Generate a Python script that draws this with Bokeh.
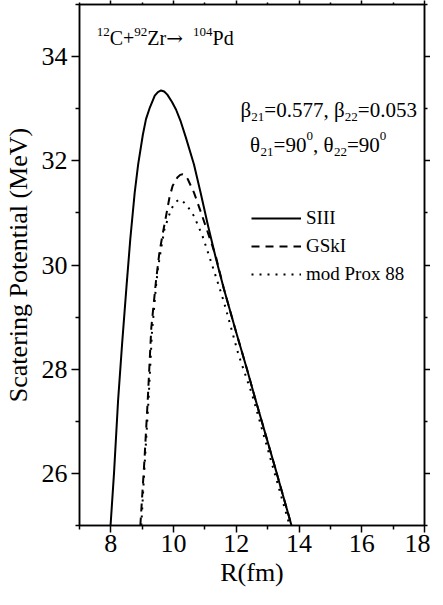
from bokeh.plotting import figure
from bokeh.models import Range1d, FixedTicker, LinearAxis, Label
from bokeh.embed import file_html
from bokeh.resources import INLINE

# ---- data ----
r_siii = [7.99, 8.10, 8.23, 8.36, 8.50, 8.62, 8.76, 8.87, 9.02, 9.12, 9.23, 9.40, 9.50, 9.60,
          9.70, 9.80, 9.95, 10.08, 10.23, 10.39, 10.65, 10.86, 11.10, 11.34, 11.60, 12.00,
          12.34, 12.59, 13.29, 13.76]
v_siii = [25.0, 26.0, 27.4, 28.5, 29.6, 30.5, 31.39, 31.93, 32.50, 32.80, 33.00, 33.25, 33.32, 33.35,
          33.33, 33.27, 33.13, 32.98, 32.75, 32.45, 31.93, 31.39, 30.75, 30.15, 29.55, 28.70,
          28.00, 27.46, 26.00, 25.0]

r_gski = [8.94, 9.07, 9.18, 9.29, 9.44, 9.55, 9.66, 9.76, 9.87, 9.97, 10.12, 10.21, 10.29, 10.37,
          10.45, 10.65, 10.85, 11.02, 11.34, 11.60, 12.00, 12.34, 12.59, 13.29, 13.76]
v_gski = [25.0, 26.25, 27.46, 28.8, 29.7, 30.25, 30.62, 30.94, 31.30, 31.52, 31.68, 31.73, 31.74, 31.72,
          31.65, 31.39, 31.05, 30.75, 30.18, 29.55, 28.70, 28.00, 27.46, 26.00, 25.0]

r_prox = [8.97, 9.08, 9.20, 9.31, 9.44, 9.50, 9.60, 9.71, 9.92, 10.05, 10.18, 10.30, 10.44,
          10.65, 10.92, 11.13, 11.39, 11.60, 12.07, 12.50, 13.20, 13.70]
v_prox = [25.0, 26.2, 27.4, 28.7, 29.6, 29.93, 30.31, 30.69, 31.07, 31.20, 31.26, 31.22, 31.13,
          30.94, 30.56, 30.18, 29.70, 29.30, 28.28, 27.52, 26.05, 25.0]

series_names = ["SIII", "GSkI", "mod Prox 88"]

x_ticks = [8, 10, 12, 14, 16, 18]
x_minor = [7, 9, 11, 13, 15, 17]
y_ticks = [26, 28, 30, 32, 34]
y_minor = [25, 27, 29, 31, 33, 35]

FONT = "Liberation Serif"

p = figure(width=430, height=589, x_range=Range1d(7, 18), y_range=Range1d(25, 35),
           output_backend="svg", toolbar_location=None,
           min_border_left=75, min_border_right=0, min_border_top=0, min_border_bottom=0)
p.grid.visible = False
p.outline_line_color = "black"
p.outline_line_width = 1.5
p.background_fill_color = "white"
p.border_fill_color = "white"


def style_axis(ax, tick_out, minor_out, standoff, labels=True):
    ax.axis_line_color = "black"
    ax.axis_line_width = 1.5
    ax.major_tick_line_color = "black"
    ax.major_tick_line_width = 1.5
    ax.minor_tick_line_color = "black"
    ax.minor_tick_line_width = 1.5
    ax.major_tick_in = 0
    ax.minor_tick_in = 0
    ax.major_tick_out = tick_out
    ax.minor_tick_out = minor_out
    ax.major_label_standoff = standoff
    ax.major_label_text_font = FONT
    ax.major_label_text_font_size = "26px"
    ax.major_label_text_color = "black"
    if labels:
        ax.axis_label_text_font = FONT
        ax.axis_label_text_font_size = "26px"
        ax.axis_label_text_font_style = "normal"
        ax.axis_label_text_color = "black"


xa = p.xaxis[0]
xa.ticker = FixedTicker(ticks=x_ticks, minor_ticks=x_minor)
xa.axis_label = "R(fm)"
style_axis(xa, 7, 4, 2)
xa.axis_label_standoff = 3

ya = p.yaxis[0]
ya.ticker = FixedTicker(ticks=y_ticks, minor_ticks=y_minor)
ya.axis_label = "Scatering Potential (MeV)"
style_axis(ya, 8, 4, 4)
ya.axis_label_standoff = 6

ax_r = LinearAxis(ticker=FixedTicker(ticks=y_ticks, minor_ticks=y_minor))
style_axis(ax_r, 6, 3, 0, labels=False)
ax_r.major_label_overrides = {t: "" for t in y_ticks}
p.add_layout(ax_r, "right")

ax_t = LinearAxis(ticker=FixedTicker(ticks=x_ticks, minor_ticks=x_minor))
style_axis(ax_t, 4, 2, 0, labels=False)
ax_t.major_label_overrides = {t: "" for t in x_ticks}
p.add_layout(ax_t, "above")

p.line(r_siii, v_siii, line_color="black", line_width=2, legend_label=series_names[0])
p.line(r_gski, v_gski, line_color="black", line_width=2, line_dash="8 6",
       legend_label=series_names[1])
p.line(r_prox, v_prox, line_color="black", line_width=2, line_dash="2 6",
       legend_label=series_names[2])

lg = p.legend[0]
lg.location = (172, 240)
lg.padding = 0
lg.margin = 0
lg.spacing = 6
lg.glyph_width = 50
lg.glyph_height = 22
lg.label_height = 22
lg.label_standoff = 5
lg.label_text_font = FONT
lg.label_text_font_size = "19px"
lg.label_text_color = "black"
lg.background_fill_alpha = 0
lg.border_line_alpha = 0

WIDTHS = {'.': 0.25, ',': 0.25, ' ': 0.25, '=': 0.564, '+': 0.564, 'C': 0.667,
          'Z': 0.611, 'r': 0.333, 'P': 0.556, 'd': 0.5, '\u2192': 0.84,
          '\u03b2': 0.52, '\u03b8': 0.5}


def text_width(s, size):
    return sum(WIDTHS.get(c, 0.5) for c in s) * size


def rich(x, y, pieces):
    off = 0.0
    for item in pieces:
        txt, size, dy = item[:3]
        font = item[3] if len(item) > 3 else FONT
        if txt.strip():
            p.add_layout(Label(x=x, y=y, x_offset=off, y_offset=dy, text=txt,
                               text_font=font, text_font_size=f"{size}px",
                               text_baseline="alphabetic", text_align="left",
                               text_color="black"))
        off += text_width(txt, size)


rich(7.55, 34.365, [("12", 13, 6), ("C+", 20, 0), ("92", 13, 6), ("Zr", 20, 0),
                    ("\u2192", 20, 0, "DejaVu Serif"),
                    ("  ", 20, 0), ("104", 13, 6), ("Pd", 20, 0)])
rich(12.13, 32.97, [("\u03b2", 21, 0), ("21", 13, -7), ("=0.577,", 21, 0), (" ", 21, 0),
                    ("\u03b2", 21, 0), ("22", 13, -7), ("=0.053", 21, 0)])
rich(12.44, 32.306, [("\u03b8", 21, 0), ("21", 13, -7), ("=90", 21, 0), ("0", 13, 9),
                     (",", 21, 0), (" ", 21, 0), ("\u03b8", 21, 0), ("22", 13, -7),
                     ("=90", 21, 0), ("0", 13, 9)])

open("out.html", "w").write(file_html(p, INLINE))
